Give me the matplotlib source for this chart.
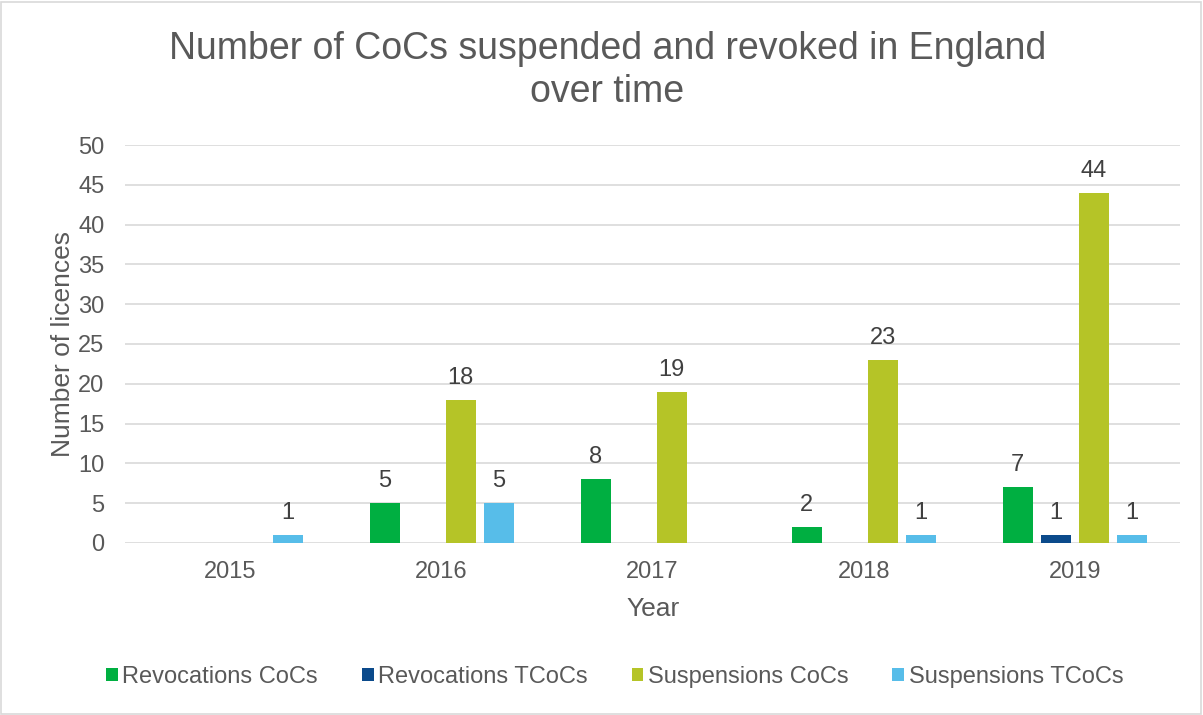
import matplotlib.pyplot as plt
import numpy as np
from matplotlib.patches import Rectangle

years = ['2015', '2016', '2017', '2018', '2019']
revocations_cocs = [0, 5, 8, 2, 7]
revocations_tcocs = [0, 0, 0, 0, 1]
suspensions_cocs = [0, 18, 19, 23, 44]
suspensions_tcocs = [1, 5, 0, 1, 1]

series = [
    ('Revocations CoCs', revocations_cocs, '#00AF41'),
    ('Revocations TCoCs', revocations_tcocs, '#0B4A8B'),
    ('Suspensions CoCs', suspensions_cocs, '#B5C427'),
    ('Suspensions TCoCs', suspensions_tcocs, '#57BDE9'),
]

text_color = '#595959'
plt.rcParams['font.family'] = ['Liberation Sans', 'DejaVu Sans']

fig = plt.figure(figsize=(12.03, 7.15), dpi=100)
ax = fig.add_axes([0.104, 0.2406, 0.877, 0.5566])

# Outer chart border like the Excel chart area
fig.patches.append(Rectangle((0.001, 0.002), 0.997, 0.995, transform=fig.transFigure,
                             fill=False, edgecolor='#D9D9D9', linewidth=1.2))

x = np.arange(len(years))
pitch = 0.18
width = 0.142
for i, (name, vals, color) in enumerate(series):
    offs = (i - 1.5) * pitch
    bars = ax.bar(x + offs, vals, width, color=color, label=name, zorder=3)
    for b, v in zip(bars, vals):
        if v:
            ax.annotate(str(v), (b.get_x() + b.get_width() / 2, v), xytext=(0, 8),
                        textcoords='offset points', ha='center', va='bottom',
                        fontsize=17, color='#404040')

ax.set_xlim(-0.5, len(years) - 0.5)
ax.set_ylim(0, 50)
ax.set_yticks(range(0, 51, 5))
ax.set_xticks(x)
ax.set_xticklabels(years)
ax.tick_params(axis='both', length=0, labelsize=17, labelcolor=text_color)
ax.tick_params(axis='y', pad=15)
ax.tick_params(axis='x', pad=13)
ax.yaxis.grid(True, color='#D9D9D9', linewidth=1.2, zorder=0)
for s in ax.spines.values():
    s.set_visible(False)

ax.set_xlabel('Year', fontsize=19, color=text_color, labelpad=10)
ax.set_ylabel('Number of licences', fontsize=19, color=text_color, labelpad=2)

fig.text(0.505, 0.902, 'Number of CoCs suspended and revoked in England\nover time',
         ha='center', va='center', fontsize=27, color=text_color, linespacing=1.25)

fig.legend(loc='center', bbox_to_anchor=(0.511, 0.053), ncol=4, frameon=False,
           fontsize=17, labelcolor=text_color, handlelength=0.5, handleheight=0.5,
           handletextpad=0.2, columnspacing=1.85)

fig.savefig('out.png', dpi=100)
